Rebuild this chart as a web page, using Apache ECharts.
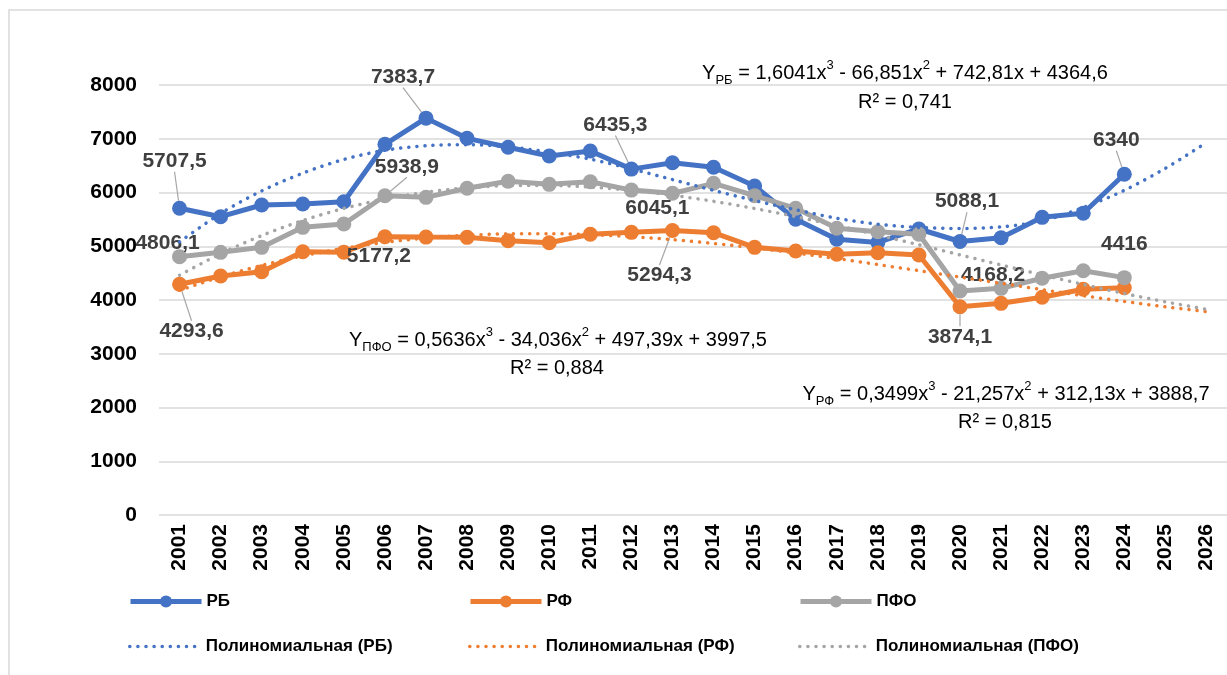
<!DOCTYPE html>
<html>
<head>
<meta charset="utf-8">
<script src="https://cdn.jsdelivr.net/npm/echarts@6/dist/echarts.min.js"></script>
<style>
  html, body { margin: 0; padding: 0; background: #fff; }
  #chart { width: 1227px; height: 675px; }
</style>
</head>
<body>
<div id="chart"></div>
<script>
const years = ['2001', '2002', '2003', '2004', '2005', '2006', '2007', '2008', '2009', '2010', '2011', '2012', '2013',
    '2014', '2015', '2016', '2017', '2018', '2019', '2020', '2021', '2022', '2023', '2024', '2025', '2026'];

const rbValues = [5707.5, 5550, 5767, 5786, 5829, 6897, 7383.7, 7008, 6841, 6679, 6772, 6435.3, 6554,
    6469, 6121, 5501, 5129, 5070, 5321, 5088.1, 5159, 5538, 5613, 6340, null, null];
const rfValues = [4293.6, 4447, 4527, 4899, 4890, 5177.2, 5170, 5166, 5104, 5066, 5222, 5259, 5294.3,
    5252, 4980, 4912, 4850, 4880, 4837, 3874.1, 3938, 4050, 4199, 4229, null, null];
const pfoValues = [4806.1, 4887, 4980, 5352, 5414, 5938.9, 5910, 6078, 6210, 6152, 6201, 6045.1, 5985,
    6171, 5941, 5706, 5334, 5271, 5222, 4168.2, 4217, 4404, 4545, 4416, null, null];

// polynomial trend lines
const rbTrend = [5080, 5610, 6030, 6360, 6615, 6785, 6870, 6890, 6850, 6750, 6620, 6440, 6240,
    6040, 5850, 5680, 5520, 5410, 5350, 5330, 5360, 5470, 5720, 6040, 6450, 6930];
const rfTrend = [4180, 4431, 4643, 4820, 4962, 5072, 5152, 5204, 5231, 5234, 5216, 5178, 5123,
    5052, 4969, 4874, 4771, 4660, 4545, 4428, 4310, 4193, 4080, 3973, 3874, 3784];
const pfoTrend = [4461, 4861, 5199, 5479, 5704, 5878, 6005, 6087, 6128, 6131, 6101, 6039, 5950,
    5836, 5702, 5551, 5386, 5210, 5027, 4840, 4652, 4468, 4290, 4121, 3966, 3827];

const yTicks = [0, 1000, 2000, 3000, 4000, 5000, 6000, 7000, 8000];

const FONT = "'Liberation Sans', Arial, sans-serif";
const colors = { rb: '#4472C4', rf: '#ED7D31', pfo: '#A5A5A5' };

// which points get a value label: index -> [dx, dy, leader line]
const labelSpots = [
    { 0: [-5, -47, true], 6: [-23, -41, true], 11: [-16, -44, true], 19: [7, -40, true], 23: [-8, -34, true] },
    { 0: [12, 47, true], 5: [-6, 19, false], 12: [-13, 45, true], 19: [0, 30, true] },
    { 0: [-12, -13, false], 5: [22, -29, true], 11: [26, 18, false], 19: [33, -16, false], 23: [0, -33, false] }
];

function build_data(values, spots) {
    return values.map((v, i) => {
        if (!spots[i]) return v;
        return {
            value: v,
            label: { show: true },
            labelLine: { show: spots[i][2] }
        };
    });
}

function main_series(name, values, color, spots) {
    return {
        name: name,
        type: 'line',
        data: build_data(values, spots),
        symbol: 'circle',
        symbolSize: 15,
        lineStyle: { color: color, width: 5 },
        itemStyle: { color: color },
        label: {
            show: false,
            position: 'inside',
            formatter: p => String(p.value).replace('.', ','),
            fontFamily: FONT,
            fontSize: 21,
            fontWeight: 'bold',
            color: '#404040',
            textBorderWidth: 0
        },
        labelLine: { show: false, length2: 0, lineStyle: { color: '#A6A6A6', width: 1.2 } },
        labelLayout: function (params) {
            const s = spots[params.dataIndex];
            return s ? { dx: s[0], dy: s[1] } : {};
        },
        emphasis: { disabled: true },
        z: 2
    };
}

function trend_series(name, values, color) {
    return {
        name: name,
        type: 'line',
        data: values,
        symbol: 'none',
        smooth: 0.3,
        lineStyle: { color: color, width: 3.5, type: [0.1, 8], cap: 'round' },
        itemStyle: { color: color },
        emphasis: { disabled: true },
        z: 3
    };
}

function legend_item(name, left, top, isTrend) {
    return {
        data: [name],
        left: left,
        top: top,
        padding: 0,
        itemWidth: 71,
        itemHeight: 15,
        itemGap: 0,
        lineStyle: isTrend ? { width: 3.5, type: [0.1, 8], cap: 'round' } : { width: 5 },
        itemStyle: isTrend ? { opacity: 0 } : {},
        textStyle: { fontFamily: FONT, fontSize: 17, fontWeight: 'bold', color: '#000' },
        selectedMode: false
    };
}

const eqRich = {
    n: { fontFamily: FONT, fontSize: 20, lineHeight: 28, fill: '#000', color: '#000' },
    p: { fontFamily: FONT, fontSize: 13, lineHeight: 16, verticalAlign: 'top', fill: '#000', color: '#000' },
    s: { fontFamily: FONT, fontSize: 13, lineHeight: 16, verticalAlign: 'bottom', fill: '#000', color: '#000' }
};

function eq_text(text, x, y) {
    return {
        type: 'text',
        x: x,
        y: y,
        z: 10,
        style: {
            text: text,
            rich: eqRich,
            font: '20px ' + FONT,
            fill: '#000',
            align: 'center',
            verticalAlign: 'middle',
            textAlign: 'center',
            textVerticalAlign: 'middle'
        }
    };
}

const chart = echarts.init(document.getElementById('chart'));

const option = {
    animation: false,
    backgroundColor: '#fff',
    grid: { left: 159, top: 85, width: 1075, height: 430, containLabel: false },
    xAxis: {
        type: 'category',
        data: years,
        boundaryGap: true,
        axisLine: { show: false },
        axisTick: { show: false },
        axisLabel: {
            rotate: 90,
            margin: 9,
            interval: 0,
            fontFamily: FONT,
            fontSize: 21,
            fontWeight: 'bold',
            color: '#000'
        }
    },
    yAxis: {
        type: 'value',
        min: yTicks[0],
        max: yTicks[yTicks.length - 1],
        interval: 1000,
        axisLine: { show: false },
        axisTick: { show: false },
        splitLine: { lineStyle: { color: '#D9D9D9', width: 1.5 } },
        axisLabel: {
            margin: 22,
            formatter: v => String(v),
            fontFamily: FONT,
            fontSize: 21,
            fontWeight: 'bold',
            color: '#000'
        }
    },
    legend: [
        legend_item('РБ', 128, 593, false),
        legend_item('РФ', 468, 593, false),
        legend_item('ПФО', 798, 593, false),
        legend_item('Полиномиальная (РБ)', 128, 638, true),
        legend_item('Полиномиальная (РФ)', 468, 638, true),
        legend_item('Полиномиальная (ПФО)', 798, 638, true)
    ],
    graphic: [
        {
            type: 'rect',
            shape: { x: 9, y: 10, width: 1240, height: 700 },
            style: { fill: 'none', stroke: '#D9D9D9', lineWidth: 1.5 },
            silent: true,
            z: -10
        },
        eq_text('{n|Y}{s|РБ}{n| = 1,6041x}{p|3}{n| - 66,851x}{p|2}{n| + 742,81x + 4364,6}', 905, 73),
        eq_text('{n|R² = 0,741}', 905, 102),
        eq_text('{n|Y}{s|ПФО}{n| = 0,5636x}{p|3}{n| - 34,036x}{p|2}{n| + 497,39x + 3997,5}', 558, 340),
        eq_text('{n|R² = 0,884}', 557, 368),
        eq_text('{n|Y}{s|РФ}{n| = 0,3499x}{p|3}{n| - 21,257x}{p|2}{n| + 312,13x + 3888,7}', 1006, 394),
        eq_text('{n|R² = 0,815}', 1005, 422)
    ],
    series: [
        main_series('РБ', rbValues, colors.rb, labelSpots[0]),
        main_series('РФ', rfValues, colors.rf, labelSpots[1]),
        main_series('ПФО', pfoValues, colors.pfo, labelSpots[2]),
        trend_series('Полиномиальная (РБ)', rbTrend, colors.rb),
        trend_series('Полиномиальная (РФ)', rfTrend, colors.rf),
        trend_series('Полиномиальная (ПФО)', pfoTrend, colors.pfo)
    ]
};

chart.setOption(option);
</script>
</body>
</html>
